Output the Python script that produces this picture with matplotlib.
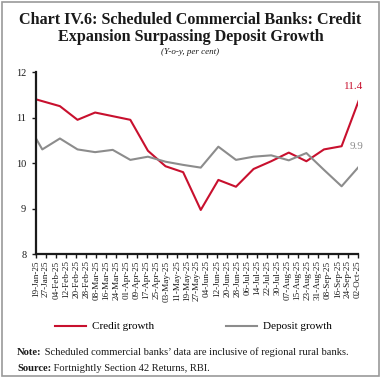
import matplotlib as mpl
mpl.use('Agg')
import matplotlib.pyplot as plt
import matplotlib.dates as mdates
from matplotlib.patches import Rectangle
import pandas as pd

# fortnightly reporting dates (first one falls before the axis start and is clipped)
dates = ['2025-01-10', '2025-01-24', '2025-02-07', '2025-02-21', '2025-03-07',
         '2025-03-21', '2025-04-04', '2025-04-18', '2025-05-02', '2025-05-16',
         '2025-05-30', '2025-06-13', '2025-06-27', '2025-07-11', '2025-07-25',
         '2025-08-08', '2025-08-22', '2025-09-05', '2025-09-19', '2025-10-03']
credit = [11.47, 11.36, 11.25, 10.95, 11.11, 11.03, 10.95, 10.27, 9.93, 9.80,
          8.97, 9.63, 9.48, 9.87, 10.04, 10.23, 10.04, 10.30, 10.37, 11.40]
deposit = [10.97, 10.30, 10.54, 10.30, 10.24, 10.29, 10.07, 10.14, 10.03, 9.96,
           9.90, 10.36, 10.07, 10.14, 10.17, 10.06, 10.22, 9.85, 9.49, 9.93]
tick_start = '2025-01-19'
tick_end = '2025-10-02'

RED = '#C8102E'
GREY = '#8C8C8C'
serif = ['Liberation Serif', 'DejaVu Serif']

df = pd.DataFrame({'credit': credit, 'deposit': deposit}, index=pd.to_datetime(dates))
ticks = pd.date_range(tick_start, tick_end, freq='8D')

fig = plt.figure(figsize=(3.81, 3.81), dpi=100)
fig.patch.set_facecolor('white')
fig.patches.append(Rectangle((0.006, 0.012), 0.988, 0.982, transform=fig.transFigure,
                             fill=False, edgecolor='#9a9a9a', linewidth=1.2))

ax = fig.add_axes([0.0945, 0.333, 0.845, 0.478])
ax.plot(df.index, df['credit'], color=RED, linewidth=1.5, label='Credit growth')
ax.plot(df.index, df['deposit'], color=GREY, linewidth=1.5, label='Deposit growth')

ax.set_xlim(ticks[0], ticks[-1])
ax.set_ylim(8, 12)
ax.set_yticks([8, 9, 10, 11, 12])
ax.set_xticks(ticks)
ax.xaxis.set_major_formatter(mdates.DateFormatter('%d-%b-%y'))

for s in ['top', 'right']:
    ax.spines[s].set_visible(False)
for s in ['left', 'bottom']:
    ax.spines[s].set_linewidth(1.6)
    ax.spines[s].set_color('#1a1a1a')

ax.tick_params(axis='x', direction='out', length=3, width=1, labelrotation=90,
               labelsize=6.6, pad=1.5, colors='#1a1a1a')
ax.tick_params(axis='y', direction='out', length=3, width=1, labelsize=7.5,
               pad=4, colors='#1a1a1a')
for lab in ax.get_xticklabels() + ax.get_yticklabels():
    lab.set_family(serif)

ax.annotate('11.4', (df.index[-1], df['credit'].iloc[-1]), xytext=(-4, 6),
            textcoords='offset points', ha='center', va='bottom', color=RED,
            fontsize=8, family=serif, annotation_clip=False)
ax.annotate('9.9', (df.index[-1], df['deposit'].iloc[-1]), xytext=(-2, 11),
            textcoords='offset points', ha='center', va='bottom', color=GREY,
            fontsize=8, family=serif, annotation_clip=False)

fig.legend(loc='center', bbox_to_anchor=(0.507, 0.143), ncol=2, frameon=False,
           prop={'family': serif, 'size': 8}, handlelength=2.8, columnspacing=6.5,
           handletextpad=0.5)

fig.text(0.5, 0.925, 'Chart IV.6: Scheduled Commercial Banks: Credit\nExpansion Surpassing Deposit Growth',
         ha='center', va='center', fontsize=11.6, fontweight='bold', family=serif,
         linespacing=1.15, color='#1a1a1a')
fig.text(0.5, 0.863, '(Y-o-y, per cent)', ha='center', va='center', fontsize=6.5,
         style='italic', family=serif, color='#1a1a1a')

# footnotes: bold lead-in followed by regular text
for y, head, body in [(0.062, 'Note:', 'Scheduled commercial banks\u2019 data are inclusive of regional rural banks.'),
                      (0.022, 'Source:', 'Fortnightly Section 42 Returns, RBI.')]:
    t = fig.text(0.045, y, head, ha='left', va='bottom', fontsize=7.6,
                 fontweight='bold', family=serif, color='#1a1a1a')
    fig.add_artist(mpl.text.Annotation(' ' + body, xy=(1, 0), xycoords=t,
                                       ha='left', va='bottom', fontsize=7.6,
                                       family=serif, color='#1a1a1a'))

fig.savefig('out.png', dpi=100)
